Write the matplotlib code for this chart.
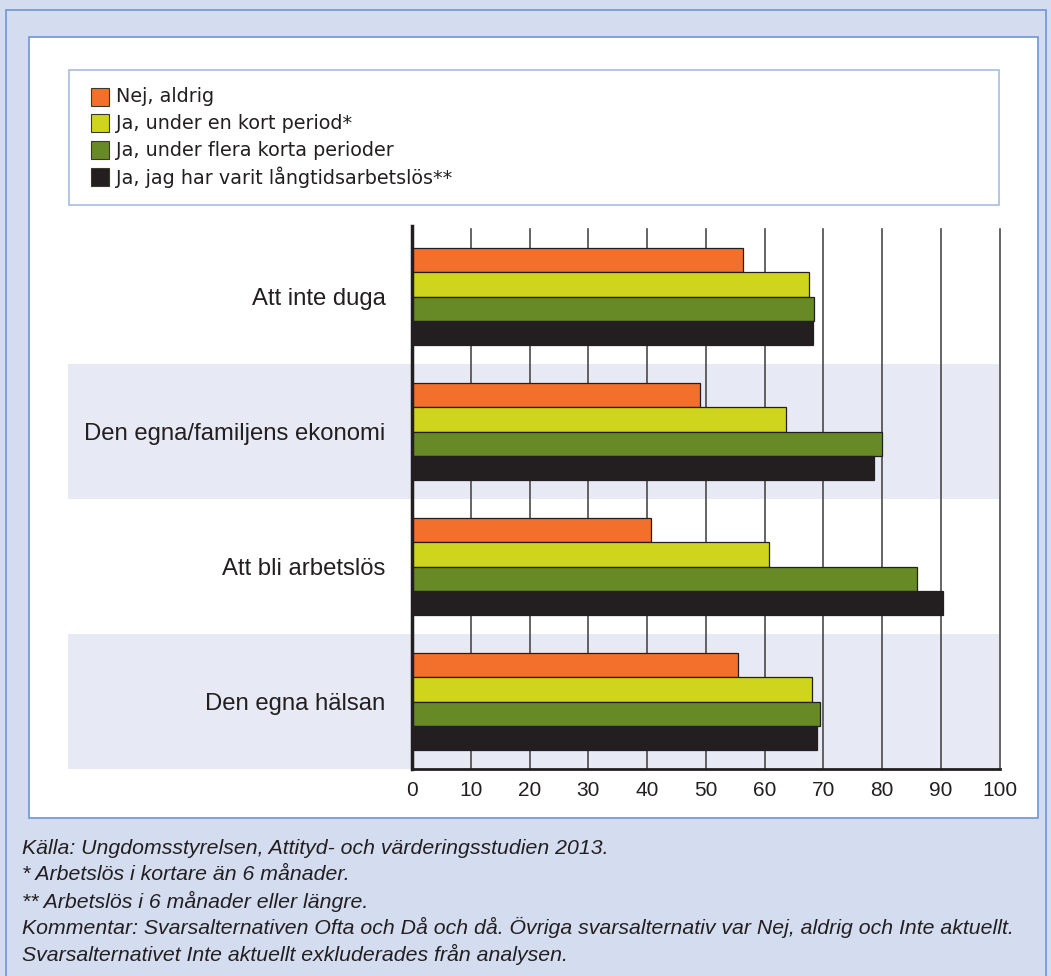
import matplotlib
matplotlib.use("Agg")
import matplotlib.pyplot as plt
from matplotlib.patches import Rectangle

# data
categories = ["Att inte duga", "Den egna/familjens ekonomi", "Att bli arbetslös", "Den egna hälsan"]
series_names = ["Nej, aldrig", "Ja, under en kort period*", "Ja, under flera korta perioder",
                "Ja, jag har varit långtidsarbetslös**"]
nej_aldrig = [56.4, 49.0, 40.7, 55.5]
kort_period = [67.5, 63.7, 60.8, 68.1]
flera_perioder = [68.5, 80.0, 86.0, 69.5]
langtid = [68.3, 78.7, 90.3, 69.0]
series_values = [nej_aldrig, kort_period, flera_perioder, langtid]
colors = ["#f2702b", "#cfd41d", "#678a26", "#231f20"]
xticks = [0, 10, 20, 30, 40, 50, 60, 70, 80, 90, 100]
footer = [
    "Källa: Ungdomsstyrelsen, Attityd- och värderingsstudien 2013.",
    "* Arbetslös i kortare än 6 månader.",
    "** Arbetslös i 6 månader eller längre.",
    "Kommentar: Svarsalternativen Ofta och Då och då. Övriga svarsalternativ var Nej, aldrig och Inte aktuellt.",
    "Svarsalternativet Inte aktuellt exkluderades från analysen.",
]

W, H = 1051, 976
fig = plt.figure(figsize=(W / 100, H / 100), dpi=100)
fig.patch.set_facecolor("#d4ddef")


def px_rect(x0, y0, x1, y1, **kw):
    # rectangle in pixel coords measured from the top-left corner
    r = Rectangle((x0 / W, 1 - y1 / H), (x1 - x0) / W, (y1 - y0) / H,
                  transform=fig.transFigure, zorder=-1, **kw)
    fig.patches.append(r)


px_rect(6, 10, 1046, 1000, facecolor="none", edgecolor="#6f95d4", linewidth=1.2)
px_rect(29, 37, 1038, 818, facecolor="white", edgecolor="#6f95d4", linewidth=1.2)
px_rect(69, 70, 999, 205, facecolor="white", edgecolor="#a6bee2", linewidth=1.2)

# legend, drawn by hand
for i, (name, c) in enumerate(zip(series_names, colors)):
    yc = 96.5 + i * 26.7
    px_rect(91, yc - 9, 109, yc + 9, facecolor=c, edgecolor="#3a3a2a", linewidth=0.8)
    fig.text(116 / W, 1 - (yc + 0.5) / H, name, fontsize=13.8, family="DejaVu Sans",
             color="#231f20", va="center", ha="left")

x0, x1, ytop, ybot = 412, 999.5, 229, 769
ax = fig.add_axes([x0 / W, 1 - ybot / H, (x1 - x0) / W, (ybot - ytop) / H])
ax.set_zorder(5)
ax.patch.set_visible(False)
ax.set_xlim(0, 100)
ax.set_ylim(len(categories) - 0.5, -0.5)

# shaded bands behind every second category
for i in range(len(categories)):
    if i % 2 == 1:
        ax.axhspan(i - 0.5, i + 0.5, xmin=(68 - x0) / (x1 - x0), xmax=1,
                   facecolor="#e7eaf4", edgecolor="none", clip_on=False, zorder=0)

for t in xticks[1:]:
    ax.axvline(t, color="#4a4a4a", linewidth=1.2, zorder=1, clip_on=False)

h = 0.181
for k, (vals, c) in enumerate(zip(series_values, colors)):
    ys = [i + (k - 1.5) * h for i in range(len(categories))]
    ax.barh(ys, vals, height=h, color=c, edgecolor="#231f20", linewidth=0.9, zorder=2)

for s in ["top", "right"]:
    ax.spines[s].set_visible(False)
ax.spines["left"].set_linewidth(2.5)
ax.spines["left"].set_color("#231f20")
ax.spines["left"].set_bounds(len(categories) - 0.5, -0.52)
ax.spines["bottom"].set_linewidth(2)
ax.spines["bottom"].set_color("#231f20")
ax.spines["left"].set_zorder(3)

ax.set_xticks(xticks)
ax.set_xticklabels([str(t) for t in xticks], fontsize=15, family="Liberation Sans", color="#231f20")
ax.set_yticks(range(len(categories)))
ax.set_yticklabels(categories, fontsize=17.2, family="Liberation Sans", color="#231f20")
ax.tick_params(axis="x", length=0, pad=8.5)
ax.tick_params(axis="y", length=0, pad=19)

for i, line in enumerate(footer):
    fig.text(22 / W, 1 - (848 + i * 26.5) / H, line, fontsize=15.3,
             family=["Liberation Sans Narrow", "Liberation Sans"],
             style="italic", color="#231f20", va="center", ha="left")

fig.savefig("out.png", dpi=100, facecolor=fig.get_facecolor())
